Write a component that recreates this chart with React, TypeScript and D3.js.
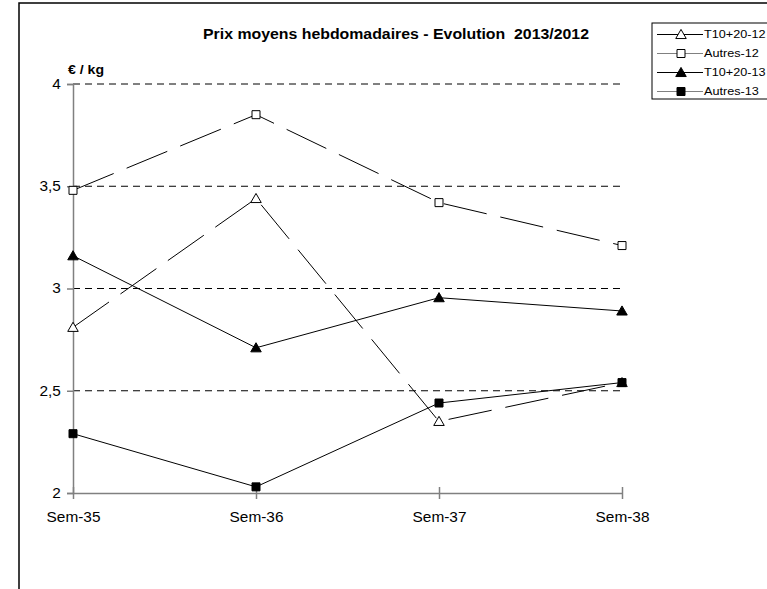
import React, { useEffect, useRef } from 'react';
import * as d3 from 'd3';

const weeks = ['Sem-35', 'Sem-36', 'Sem-37', 'Sem-38'];
const t1020_12 = [2.81, 3.44, 2.35, 2.54];
const autres12 = [3.48, 3.85, 3.42, 3.21];
const t1020_13 = [3.16, 2.71, 2.955, 2.89];
const autres13 = [2.29, 2.03, 2.44, 2.54];
const yTicks = [2, 2.5, 3, 3.5, 4];

const seriesList = [
  { name: 'T10+20-12', values: t1020_12, marker: 'triangle', filled: false, dashed: true, legendColor: '#000' },
  { name: 'Autres-12', values: autres12, marker: 'square', filled: false, dashed: true, legendColor: '#808080' },
  { name: 'T10+20-13', values: t1020_13, marker: 'triangle', filled: true, dashed: false, legendColor: '#000' },
  { name: 'Autres-13', values: autres13, marker: 'square', filled: true, dashed: false, legendColor: '#808080' },
];

const FONT = 'Arial, "Liberation Sans", sans-serif';
// the source picture is a bit wider than tall, so text is stretched sideways
const STRETCH = 'scale(1.1,1)';

const App = () => {
  const chartRef = useRef<SVGSVGElement | null>(null);

  useEffect(() => {
    const svg = d3.select(chartRef.current);
    svg.selectAll('*').remove();

    const x = d3.scalePoint<string>().domain(weeks).range([73, 622]);
    const y = d3.scaleLinear().domain([2, 4]).range([493, 84]);

    // frame (only top and left visible)
    svg.append('path')
      .attr('d', 'M19,589 L19,3 L767,3')
      .attr('fill', 'none')
      .attr('stroke', '#000')
      .attr('stroke-width', 1.5);

    // title
    svg.append('text')
      .attr('x', 396)
      .attr('y', 39)
      .attr('text-anchor', 'middle')
      .attr('font-family', FONT)
      .attr('font-size', 14)
      .attr('font-weight', 'bold')
      .attr('textLength', 386)
      .attr('lengthAdjust', 'spacingAndGlyphs')
      .style('white-space', 'pre')
      .text('Prix moyens hebdomadaires - Evolution  2013/2012');

    svg.append('text')
      .attr('x', 68)
      .attr('y', 74)
      .attr('font-family', FONT)
      .attr('font-size', 13)
      .attr('font-weight', 'bold')
      .attr('textLength', 36)
      .attr('lengthAdjust', 'spacingAndGlyphs')
      .text('€ / kg');

    // gridlines
    svg.append('g')
      .selectAll('line')
      .data(yTicks.filter((t) => t > 2))
      .enter().append('line')
      .attr('x1', 73)
      .attr('x2', 620)
      .attr('y1', (d) => y(d))
      .attr('y2', (d) => y(d))
      .attr('stroke', '#000')
      .attr('stroke-width', 1)
      .attr('stroke-dasharray', '7,5');

    // Y axis
    const yAxis = svg.append('g')
      .attr('transform', 'translate(73,0)')
      .call(d3.axisLeft(y).tickValues(yTicks).tickSize(6).tickFormat((d) => String(d).replace('.', ',')));
    yAxis.select('.domain').attr('stroke', '#808080').attr('stroke-width', 1.5);
    yAxis.selectAll('.tick line').attr('stroke', '#808080').attr('stroke-width', 1.5);
    yAxis.selectAll('text')
      .attr('font-family', FONT)
      .attr('font-size', 14)
      .attr('fill', '#000')
      .attr('x', -11)
      .attr('transform', STRETCH);

    // X axis
    const xAxis = svg.append('g')
      .attr('transform', 'translate(0,493)')
      .call(d3.axisBottom(x).tickSizeInner(6).tickSizeOuter(0));
    xAxis.select('.domain').attr('stroke', '#808080').attr('stroke-width', 1.5);
    xAxis.selectAll('.tick line').attr('stroke', '#808080').attr('stroke-width', 1.5).attr('y1', -6);
    xAxis.selectAll('text')
      .attr('font-family', FONT)
      .attr('font-size', 14)
      .attr('fill', '#000')
      .attr('y', 19)
      .attr('transform', STRETCH);

    const line = d3.line<number>()
      .x((d, i) => x(weeks[i]) as number)
      .y((d) => y(d));

    const drawMarker = (g: any, cx: number, cy: number, marker: string, filled: boolean) => {
      const sym = d3.symbol()
        .type(marker === 'triangle' ? d3.symbolTriangle : d3.symbolSquare)
        .size(marker === 'triangle' ? 48 : 64);
      g.append('path')
        .attr('d', sym())
        .attr('transform', `translate(${cx},${cy + (marker === 'triangle' ? 1 : 0)})`)
        .attr('fill', filled ? '#000' : '#fff')
        .attr('stroke', '#000')
        .attr('stroke-width', 1);
    };

    seriesList.forEach((s) => {
      const g = svg.append('g');
      g.append('path')
        .datum(s.values)
        .attr('d', line)
        .attr('fill', 'none')
        .attr('stroke', '#000')
        .attr('stroke-width', 1)
        .attr('stroke-dasharray', s.dashed ? '44,14' : null);
      s.values.forEach((v, i) => drawMarker(g, x(weeks[i]) as number, y(v), s.marker, s.filled));
    });

    // legend
    const legend = svg.append('g').attr('transform', 'translate(652,23)');
    legend.append('rect')
      .attr('x', 0)
      .attr('y', 0)
      .attr('width', 130)
      .attr('height', 76)
      .attr('fill', '#fff')
      .attr('stroke', '#000')
      .attr('stroke-width', 1);
    seriesList.forEach((s, i) => {
      const ly = 11.5 + i * 19;
      const row = legend.append('g');
      row.append('line')
        .attr('x1', 5)
        .attr('x2', 51)
        .attr('y1', ly)
        .attr('y2', ly)
        .attr('stroke', s.legendColor)
        .attr('stroke-width', 1);
      drawMarker(row, 29, ly, s.marker, s.filled);
      row.append('text')
        .attr('x', 52)
        .attr('y', ly + 4)
        .attr('font-family', FONT)
        .attr('font-size', 11.5)
        .attr('transform', `translate(52,0) ${STRETCH} translate(-52,0)`)
        .text(s.name);
    });
  }, []);

  return (
    <svg
      ref={chartRef}
      width={767}
      height={589}
      style={{ position: 'absolute', left: 0, top: 0, background: '#fff' }}
    />
  );
};

export default App;
